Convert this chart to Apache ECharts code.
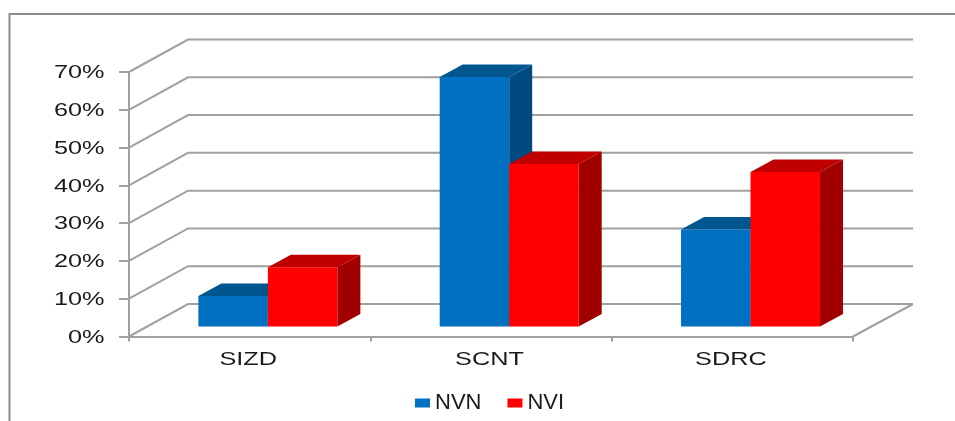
<!DOCTYPE html>
<html><head><meta charset="utf-8">
<style>html,body{margin:0;padding:0;background:#fff}#c{width:955px;height:421px}</style>
<script src="https://cdn.jsdelivr.net/npm/echarts@6/dist/echarts.min.js"></script>
</head><body><div id="c"></div>
<script>
const categories = ['SIZD', 'SCNT', 'SDRC'];
const nvn = [8.1, 66, 25.7];
const nvi = [15.7, 43, 40.9];
const yTicks = [0, 10, 20, 30, 40, 50, 60, 70];

const GRID = '#a0a0a0', INK = '#1a1a1a';
const WALL = [59, -32.5];      // depth of the box
const BAR_DEPTH = [23, -12.5]; // depth of each column
const BAR_SHIFT = [18.2, -10]; // column front plane inside the box
const FONT = '19px "Liberation Sans", Arial, sans-serif';
const STRETCH = 1.33;
const chart = echarts.init(document.getElementById('c'));

function wallItem(params, api) {
  const p = api.coord([0, api.value(0)]);
  const left = p[0] - api.size([1, 0])[0] / 2;
  const right = left + api.size([1, 0])[0] * categories.length;
  const pts = [[left, p[1]], [left + WALL[0], p[1] + WALL[1]], [right + WALL[0] + 1, p[1] + WALL[1]]];
  const kids = [{ type: 'polyline', shape: { points: pts }, style: { fill: null, stroke: GRID, lineWidth: 2 } }];
  if (api.value(0) === 0) {
    kids.push({ type: 'line', shape: { x1: right, y1: p[1], x2: right + WALL[0] + 1, y2: p[1] + WALL[1] },
      style: { stroke: GRID, lineWidth: 2 } });
  }
  return { type: 'group', children: kids };
}
function yLabelItem(params, api) {
  const p = api.coord([0, api.value(0)]);
  const left = p[0] - api.size([1, 0])[0] / 2;
  return { type: 'text', x: left - 24.5, y: p[1] + 1, scaleX: STRETCH,
    style: { text: api.value(0) + '%', align: 'right', verticalAlign: 'middle', font: FONT, fill: INK } };
}
function xLabelItem(params, api) {
  const p = api.coord([api.value(0), 0]);
  return { type: 'text', x: p[0] - 1.5, y: p[1] + 23, scaleX: STRETCH,
    style: { text: categories[api.value(0)], align: 'center', verticalAlign: 'middle', font: FONT, fill: INK } };
}
function barItem(side, front, top, dark) {
  return function (params, api) {
    const c = api.value(0), base = api.coord([c, 0]), head = api.coord([c, api.value(1)]);
    const w = api.size([1, 0])[0] * 0.288;
    const x0 = base[0] + BAR_SHIFT[0] + (side === 0 ? -w : 0), x1 = x0 + w;
    const yb = base[1] + BAR_SHIFT[1], yt = head[1] + BAR_SHIFT[1];
    const dx = BAR_DEPTH[0], dy = BAR_DEPTH[1];
    return { type: 'group', children: [
      { type: 'polygon', shape: { points: [[x1, yb], [x1 + dx, yb + dy], [x1 + dx, yt + dy], [x1, yt]] }, style: { fill: dark } },
      { type: 'polygon', shape: { points: [[x0, yt], [x0 + dx, yt + dy], [x1 + dx, yt + dy], [x1, yt]] }, style: { fill: top } },
      { type: 'rect', shape: { x: x0, y: yt, width: w, height: yb - yt }, style: { fill: front } }
    ] };
  };
}
const rows = a => a.map((v, i) => [i, v]);

chart.setOption({
  animation: false,
  backgroundColor: '#fff',
  grid: { left: 129, top: 72, width: 724, height: 264.5 },
  xAxis: { type: 'category', data: categories,
    axisLine: { lineStyle: { color: GRID, width: 2 } },
    axisTick: { show: true, length: 5, lineStyle: { color: GRID, width: 2 } },
    axisLabel: { show: false }, splitLine: { show: false } },
  yAxis: { type: 'value', min: 0, max: 70, interval: 10,
    axisLine: { show: true, lineStyle: { color: GRID, width: 2 } },
    axisTick: { show: true, length: 10, lineStyle: { color: GRID, width: 2 } },
    axisLabel: { show: false }, splitLine: { show: false } },
  legend: { data: ['NVN', 'NVI'], left: 410, top: 387, itemWidth: 15, itemHeight: 9, itemGap: 26, icon: 'rect',
    textStyle: { fontFamily: '"Liberation Sans", Arial, sans-serif', fontSize: 22, color: INK } },
  graphic: [{ type: 'polyline', silent: true, shape: { points: [[9.5, 421], [9.5, 14], [955, 14]] },
    style: { fill: null, stroke: '#8c8c8c', lineWidth: 2 } }],
  series: [
    { type: 'custom', name: 'wall', silent: true, z: 1, data: yTicks.map(v => [v]), encode: { y: 0 }, renderItem: wallItem },
    { type: 'custom', name: 'yLabels', silent: true, z: 1, data: yTicks.map(v => [v]), encode: { y: 0 }, renderItem: yLabelItem },
    { type: 'custom', name: 'xLabels', silent: true, z: 1, data: categories.map((c, i) => [i]), encode: { x: 0 }, renderItem: xLabelItem },
    { type: 'custom', name: 'NVN', z: 3, itemStyle: { color: '#0070c0' }, data: rows(nvn), encode: { x: 0, y: 1 },
      renderItem: barItem(0, '#0070c0', '#00568f', '#004a80') },
    { type: 'custom', name: 'NVI', z: 4, itemStyle: { color: '#ff0000' }, data: rows(nvi), encode: { x: 0, y: 1 },
      renderItem: barItem(1, '#ff0000', '#c00000', '#a00000') }
  ]
});
</script></body></html>
